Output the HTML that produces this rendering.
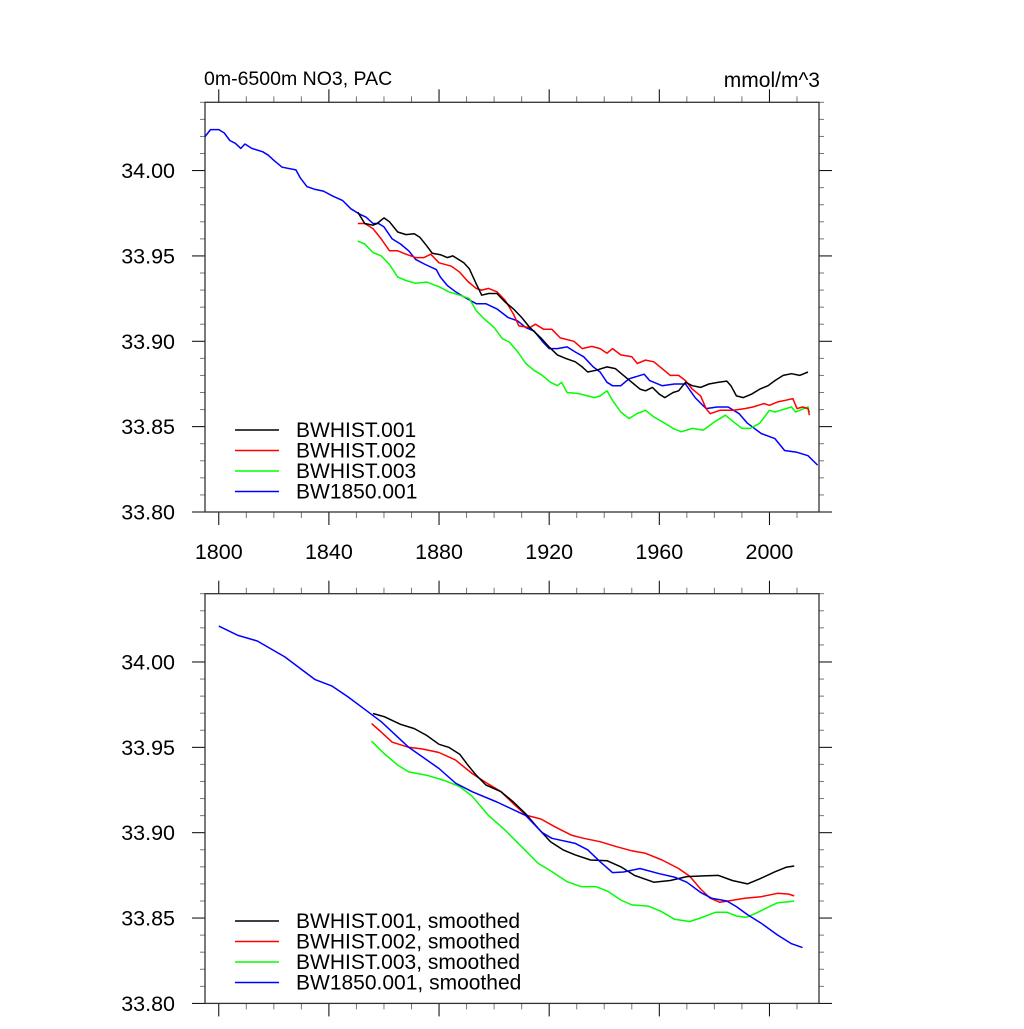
<!DOCTYPE html>
<html><head><meta charset="utf-8"><style>
body{margin:0;background:#fff;}
svg text{font-family:"Liberation Sans",sans-serif;}
</style></head><body>
<svg id="chart" width="1024" height="1024" xmlns="http://www.w3.org/2000/svg"></svg>
<script>
const years1=[1795,1797,1800,1802,1804,1806,1808,1809.5,1812,1816,1818,1820,1823,1828,1829.5,1832,1835,1838,1841.5,1845,1848,1851,1853.5,1856,1858,1860,1863,1866,1869,1871.5,1875,1879,1880.5,1883,1886,1889,1893.5,1897,1901,1905,1908.5,1911.5,1914.5,1917.5,1920,1923,1926.5,1929.5,1932.5,1936,1938.5,1941,1943,1946,1949,1954.5,1956.5,1961,1965.5,1969.5,1973,1977,1981,1985,1989,1992,1997,2002,2005.5,2010,2014,2017.5];
const blueRaw=[34.0199,34.024,34.024,34.022,34.0176,34.016,34.013,34.0156,34.013,34.011,34.009,34.006,34.002,34.0004,33.996,33.9906,33.989,33.988,33.985,33.9824,33.9776,33.9746,33.9727,33.969,33.969,33.967,33.96,33.957,33.953,33.948,33.945,33.942,33.9376,33.9327,33.929,33.926,33.922,33.922,33.919,33.914,33.912,33.908,33.906,33.900,33.8957,33.8957,33.8967,33.8937,33.891,33.885,33.882,33.876,33.874,33.874,33.878,33.8807,33.877,33.874,33.875,33.875,33.867,33.8606,33.8615,33.8615,33.8576,33.852,33.846,33.843,33.836,33.835,33.833,33.8275];
const years2=[1850.5,1853,1856,1857.5,1860,1862,1865,1868,1871,1873,1875.5,1877.5,1880.5,1883,1885,1889,1891,1893.5,1895.5,1898,1901,1904,1907,1910,1913,1917,1920,1923,1926,1929.5,1932,1934,1937,1941,1944,1947,1950,1953,1955,1957.5,1960,1962,1965,1967,1969.5,1972,1975,1978,1981.5,1984.5,1986,1988,1990.5,1993.5,1996.5,1999.5,2002,2005,2008,2011,2014];
const blackRaw=[33.9756,33.969,33.968,33.969,33.9723,33.970,33.964,33.9625,33.963,33.961,33.956,33.9516,33.9507,33.949,33.950,33.946,33.9425,33.9337,33.927,33.928,33.928,33.923,33.919,33.914,33.908,33.902,33.8966,33.892,33.890,33.888,33.885,33.882,33.883,33.885,33.884,33.880,33.876,33.872,33.871,33.873,33.869,33.867,33.870,33.871,33.876,33.874,33.873,33.875,33.876,33.8767,33.874,33.868,33.867,33.869,33.872,33.874,33.877,33.880,33.881,33.880,33.882];
const years3=[1850.5,1853,1856,1859,1862,1865,1868,1871.5,1874.5,1877,1880,1884.5,1887.5,1890.5,1893.5,1895.5,1898,1901,1904,1907,1909,1913,1915,1918,1921,1924,1929,1932,1935.5,1938.5,1941,1943,1946,1950,1952,1955,1958,1961,1964,1967,1969.5,1972,1975,1977,1978.5,1982,1987,1991,1994,1998,2000,2003,2006,2008.5,2010,2012,2014,2014.5];
const redRaw=[33.969,33.969,33.966,33.960,33.953,33.953,33.951,33.949,33.949,33.951,33.946,33.944,33.9405,33.935,33.931,33.930,33.931,33.929,33.924,33.916,33.909,33.908,33.910,33.907,33.907,33.902,33.900,33.8957,33.897,33.8957,33.893,33.8957,33.892,33.891,33.887,33.889,33.888,33.884,33.880,33.880,33.877,33.872,33.868,33.8606,33.8576,33.8596,33.8596,33.8606,33.8615,33.8635,33.8625,33.8645,33.8655,33.8664,33.8606,33.8615,33.8606,33.8567];
const years4=[1850.5,1853,1856,1859,1862,1865,1868,1871.5,1875.5,1880,1883.5,1887.5,1891,1893.5,1896.5,1900,1903,1905.5,1908.5,1911.5,1914.5,1917.5,1920.5,1923,1924.5,1926.5,1930.5,1934,1936.5,1938.5,1941,1943,1946,1949,1952,1955,1958,1962,1965,1968,1972,1976,1980,1984,1987,1990,1993,1996.5,2000,2002,2004,2006,2008,2009.5,2012.5,2014,2014.5];
const greenRaw=[33.9587,33.957,33.952,33.950,33.945,33.9376,33.9356,33.934,33.9347,33.932,33.929,33.927,33.925,33.918,33.913,33.908,33.9015,33.8996,33.894,33.887,33.883,33.880,33.876,33.874,33.876,33.870,33.8694,33.868,33.867,33.868,33.871,33.8654,33.8586,33.8547,33.8577,33.8596,33.8557,33.852,33.849,33.847,33.849,33.848,33.8528,33.8567,33.8528,33.849,33.849,33.852,33.8596,33.8586,33.8596,33.8606,33.8615,33.8586,33.8606,33.8615,33.8586];

const yearsS1=[1800,1807,1814,1824,1835,1841,1847,1853,1859,1869,1880,1886,1892,1901,1911.5,1917.5,1921,1929.5,1934,1938.5,1943,1947,1953,1960,1965.5,1970,1975,1979,1984.5,1988,1992,1997,2003,2008,2012];
const blueSm=[34.021,34.0156,34.0123,34.003,33.9897,33.986,33.9795,33.9723,33.965,33.950,33.9376,33.929,33.924,33.918,33.910,33.900,33.8967,33.8937,33.890,33.883,33.8766,33.877,33.879,33.876,33.874,33.871,33.865,33.8616,33.860,33.8567,33.852,33.847,33.840,33.835,33.8327];
const yearsS2=[1856,1860,1866,1871,1875.5,1880,1883.5,1887.5,1890.5,1893.5,1897,1902.5,1907,1911.5,1916,1920.5,1925,1929.5,1935,1941,1946,1951,1958,1964,1970,1976,1981.5,1986.5,1992,1996.5,2002,2006,2009];
const blackSm=[33.9698,33.968,33.9635,33.961,33.957,33.9518,33.950,33.946,33.9396,33.9337,33.928,33.924,33.918,33.911,33.9025,33.8947,33.890,33.887,33.884,33.8836,33.880,33.875,33.871,33.872,33.8743,33.8747,33.875,33.872,33.870,33.873,33.8771,33.8797,33.8805];
const yearsS3=[1855.5,1859,1863,1869,1874,1880,1886,1892,1898,1902.5,1907,1911.5,1917,1922,1928,1932.5,1938.5,1944.5,1950,1955,1961,1967,1971,1975,1978.5,1982,1985,1991,1997,2003,2007,2009];
const redSm=[33.9639,33.959,33.953,33.950,33.949,33.947,33.9425,33.9347,33.9284,33.924,33.917,33.9103,33.908,33.9035,33.8986,33.8967,33.8947,33.8918,33.8894,33.8879,33.884,33.879,33.8746,33.867,33.8616,33.8592,33.860,33.8616,33.8625,33.8645,33.864,33.863];
const yearsS4=[1855.5,1860,1865,1869,1875.5,1881.5,1887.5,1892,1898,1904,1910,1916,1921,1926.5,1931.5,1937,1941.5,1946,1950,1956,1960.5,1965.5,1971,1975,1980.5,1984.5,1988,1991.5,1995,2000,2003,2007,2009];
const greenSm=[33.9536,33.9464,33.9396,33.9356,33.9337,33.9308,33.927,33.9214,33.910,33.9015,33.8918,33.882,33.8772,33.8713,33.8684,33.8684,33.8655,33.8606,33.8577,33.857,33.854,33.8493,33.848,33.850,33.8534,33.8534,33.8512,33.8504,33.8528,33.8567,33.859,33.8596,33.860];

const yTicks=[33.80,33.85,33.90,33.95,34.00];
const xTicks=[1800,1840,1880,1920,1960,2000];
const legendTop=["BWHIST.001","BWHIST.002","BWHIST.003","BW1850.001"];
const legendBot=["BWHIST.001, smoothed","BWHIST.002, smoothed","BWHIST.003, smoothed","BW1850.001, smoothed"];

const NS="http://www.w3.org/2000/svg";
const svg=document.getElementById('chart');
const X0=205,X1=819,XMIN=1795,XMAX=2018,YMIN=33.80,YMAX=34.04;
function mk(tag,attrs,parent){const e=document.createElementNS(NS,tag);for(const k in attrs)e.setAttribute(k,attrs[k]);(parent||svg).appendChild(e);return e;}
function panel(top,bottom,name,xlabels,series,legend,legY){
  const g=mk('g',{});
  
  
  const sx=v=>X0+(v-XMIN)/(XMAX-XMIN)*(X1-X0);
  const sy=v=>bottom-(v-YMIN)/(YMAX-YMIN)*(bottom-top);
  for(let yr=1800;yr<=2010;yr+=10){
    const x=sx(yr);const major=xTicks.includes(yr);const L=major?13:6;
    mk('line',{x1:x,x2:x,y1:bottom,y2:bottom+L,stroke:major?'#000':'#777','stroke-width':1},g);
    mk('line',{x1:x,x2:x,y1:top,y2:top-L,stroke:major?'#000':'#777','stroke-width':1},g);
  }
  for(let i=0;i<=24;i++){
    const v=YMIN+i*0.01;const y=sy(v);const major=i%5===0;const L=major?13:5;
    mk('line',{x1:X0,x2:X0-L,y1:y,y2:y,stroke:major?'#000':'#777','stroke-width':1},g);
    mk('line',{x1:X1,x2:X1+L,y1:y,y2:y,stroke:major?'#000':'#777','stroke-width':1},g);
  }
  const fr=mk('rect',{x:X0,y:top,width:X1-X0,height:bottom-top,fill:'none',stroke:'#333','stroke-width':1.3},g);
  
  
  yTicks.forEach(v=>{
    const t=mk('text',{x:175,y:sy(v)+7.5,'text-anchor':'end','font-size':21.5},g);
    
    
    t.textContent=v.toFixed(2);
  });
  if(xlabels){xTicks.forEach(v=>{
    const t=mk('text',{x:sx(v),y:559,'text-anchor':'middle','font-size':21.5},g);
    
    
    t.textContent=v;
  });}
  series.forEach(s=>{
    const pts=s.x.map((yr,i)=>sx(yr).toFixed(1)+','+sy(s.y[i]).toFixed(1)).join(' ');
    const p=mk('polyline',{points:pts,fill:'none',stroke:s.c,'stroke-width':1.5,'stroke-linejoin':'round'},g);
    
    
  });
  legend.forEach((lab,i)=>{
    const y=legY+i*20.5;
    const l=mk('line',{x1:235,x2:279,y1:y,y2:y,stroke:['#000','#f00','#0f0','#00f'][i],'stroke-width':1.5},g);
    
    
    const t=mk('text',{x:296,y:y+7,'font-size':21},g);
    
    
    t.textContent=lab;
  });
}
panel(102.3,512,'top-panel',true,[
  {x:years1,y:blueRaw,c:'#00f',n:'line-bw1850-001'},
  {x:years4,y:greenRaw,c:'#0f0',n:'line-bwhist-003'},
  {x:years3,y:redRaw,c:'#f00',n:'line-bwhist-002'},
  {x:years2,y:blackRaw,c:'#000',n:'line-bwhist-001'}],legendTop,430);
panel(593.7,1003.4,'bottom-panel',false,[
  {x:yearsS4,y:greenSm,c:'#0f0',n:'line-bwhist-003-smoothed'},
  {x:yearsS3,y:redSm,c:'#f00',n:'line-bwhist-002-smoothed'},
  {x:yearsS2,y:blackSm,c:'#000',n:'line-bwhist-001-smoothed'},
  {x:yearsS1,y:blueSm,c:'#00f',n:'line-bw1850-001-smoothed'}],legendBot,921);
const t1=mk('text',{x:204,y:85,'font-size':19.5});


t1.textContent='0m-6500m NO3, PAC';
const t2=mk('text',{x:820,y:87,'font-size':21,'text-anchor':'end'});


t2.textContent='mmol/m^3';
</script>
</body></html>
